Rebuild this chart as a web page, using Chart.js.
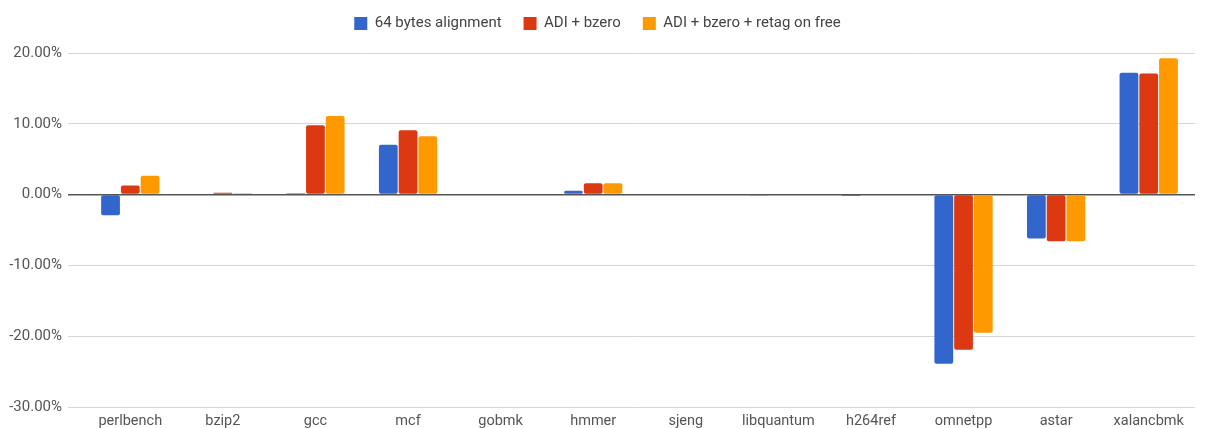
<!DOCTYPE html>
<html>
<head>
<meta charset="utf-8">
<script src="https://cdn.jsdelivr.net/npm/chart.js@4/dist/chart.umd.min.js"></script>
<style>
  html, body { margin: 0; padding: 0; background: #fff; }
  #wrap { width: 1206px; height: 428px; position: relative; }
</style>
</head>
<body>
<div id="wrap"><canvas id="c" width="1206" height="428"></canvas></div>
<script>
const categories = ['perlbench','bzip2','gcc','mcf','gobmk','hmmer','sjeng','libquantum','h264ref','omnetpp','astar','xalancbmk'];
const seriesNames = ['64 bytes alignment', 'ADI + bzero', 'ADI + bzero + retag on free'];
const align64 = [-2.9, 0, 0.2, 7.05, 0, 0.55, 0, -0.05, -0.2, -23.9, -6.2, 17.2];
const adiBzero = [1.3, 0.25, 9.8, 9.1, 0, 1.6, 0, 0, 0, -21.9, -6.6, 17.1];
const adiBzeroRetag = [2.65, 0.2, 11.1, 8.25, 0, 1.6, 0, 0, 0, -19.5, -6.6, 19.25];
const yTicks = [20, 10, 0, -10, -20, -30];
const colors = ['#3366cc', '#dc3912', '#ff9900'];

const legendHeightPlugin = {
  id: 'legendHeight',
  beforeInit(chart) {
    const fit = chart.legend.fit;
    chart.legend.fit = function () {
      fit.bind(chart.legend)();
      this.height = 59;
    };
  }
};

const mk = (i, data) => ({
  label: seriesNames[i],
  data: data,
  backgroundColor: colors[i],
  borderWidth: 0,
  borderRadius: 2,
  borderSkipped: false,
  barPercentage: 0.95,
  categoryPercentage: 0.64
});

new Chart(document.getElementById('c'), {
  type: 'bar',
  data: {
    labels: categories,
    datasets: [mk(0, align64), mk(1, adiBzero), mk(2, adiBzeroRetag)]
  },
  options: {
    responsive: false,
    animation: false,
    devicePixelRatio: 1,
    layout: { padding: { left: 0, right: 11, top: -6, bottom: 0 } },
    plugins: {
      legend: {
        position: 'top',
        align: 'center',
        labels: {
          boxWidth: 13,
          boxHeight: 13,
          padding: 22,
          color: '#444',
          font: { family: 'Roboto', size: 15 }
        }
      },
      tooltip: { enabled: false }
    },
    scales: {
      x: {
        grid: { display: false, drawTicks: false },
        border: { display: false },
        ticks: {
          color: '#555',
          font: { family: 'Roboto', size: 14.5 },
          padding: 6,
          maxRotation: 0,
          autoSkip: false
        },
        afterFit(scale) { scale.height = 21; }
      },
      y: {
        min: -30,
        max: 20,
        afterBuildTicks(scale) { scale.ticks = yTicks.map(v => ({ value: v })); },
        border: { display: false },
        grid: {
          color: ctx => (ctx.tick && ctx.tick.value === 0) ? '#555' : '#d6d6d6',
          lineWidth: ctx => (ctx.tick && ctx.tick.value === 0) ? 1.5 : 1,
          drawTicks: true,
          tickLength: 16
        },
        ticks: {
          color: '#555',
          font: { family: 'Roboto', size: 15 },
          padding: 6,
          callback: v => v.toFixed(2) + '%'
        },
        afterFit(scale) { scale.width = 84; }
      }
    }
  },
  plugins: [legendHeightPlugin]
});
</script>
</body>
</html>
